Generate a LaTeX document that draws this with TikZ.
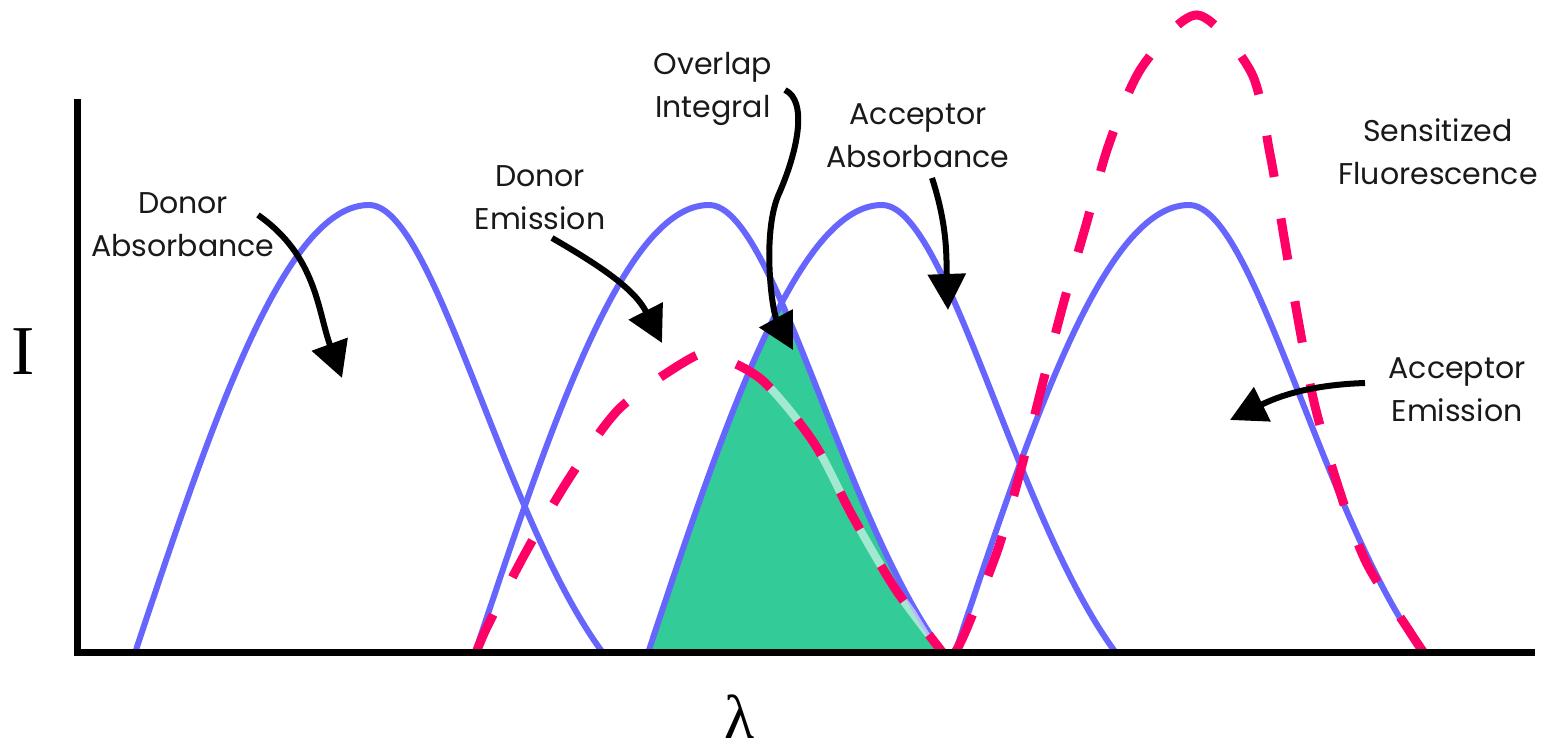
\documentclass[tikz,border=0pt]{standalone}
\usepackage{fontspec}
\newfontfamily\labelfont{Poppins}
\newfontfamily\axisfont{Liberation Serif}
\usetikzlibrary{arrows.meta}
\definecolor{cblue}{RGB}{102,102,255}
\definecolor{cred}{RGB}{255,0,102}
\definecolor{cgreen}{RGB}{51,204,153}
\newcommand\archplot{plot[domain=-234:0,samples=50,smooth] (\x,{448*cos(90*\x/234)}) -- plot[domain=0:234,samples=50,smooth] (\x,{448*cos(90*(\x/234+0.55*(\x/234)*(1-\x/234)))})}
\newcommand\redsmall{plot[smooth] coordinates {(476,98) (488,126) (527,201) (570,274) (619,342) (686,390) (712,396) (762,371) (814,308) (853,234) (896,161) (943,98)}}
\newcommand\redbig{plot[smooth] coordinates {(955,98) (967,123) (998,202) (1021,282) (1042,365) (1063,446) (1086,526) (1109,607) (1142,684) (1197,736) (1251,679) (1270,597) (1284,514) (1298,432) (1314,349) (1337,268) (1366,189) (1410,119) (1424,98)}}
\begin{document}
\begin{tikzpicture}[x=1pt,y=1pt,
  bluec/.style={draw=cblue, line width=6pt},
  redc/.style={draw=cred, line width=9pt, dash pattern=on 42pt off 42pt},
  arr/.style={draw=black, line width=6pt, -{Triangle[length=36pt,width=37pt]}},
  lab/.style={font=\labelfont\fontsize{30}{43}\selectfont, align=center, inner sep=0pt, text=black!90}]
\useasboundingbox (0,0) rectangle (1561,751);
% overlap integral
\begin{scope}
  \clip[shift={(709,98)}] \archplot -- cycle;
  \fill[cgreen, shift={(882,98)}] \archplot -- cycle;
\end{scope}
% blue spectra
\foreach \c in {369,709,882,1189} \draw[bluec, shift={(\c,98)}] \archplot;
% light gaps of the dashed line inside the overlap
\begin{scope}
  \clip[shift={(709,98)}] \archplot -- cycle;
  \clip[shift={(882,98)}] \archplot -- cycle;
  \draw[white, opacity=0.55, line width=8pt] \redsmall;
\end{scope}
% red dashed spectra
\draw[redc] \redsmall;
\draw[redc] \redbig;
% axes
\draw[line width=7pt] (77,652) -- (77,98) -- (1535,98);
% labels
\node[lab] (dabs) at (183,526) {Donor\\Absorbance};
\node[lab] (dem) at (540,553) {Donor\\Emission};
\node[lab] (ovl) at (713,662) {Overlap\\Integral};
\node[lab] (aabs) at (918,615) {Acceptor\\Absorbance};
\node[lab] (sens) at (1438,599) {Sensitized\\Fluorescence};
\node[lab] (aem) at (1457,361) {Acceptor\\Emission};
\node[font=\axisfont\fontsize{70}{70}\selectfont, inner sep=0pt, anchor=base] (ilab) at (23,376) {I};
\node[font=\axisfont\fontsize{62}{62}\selectfont, inner sep=0pt, anchor=south] (lam) at (740,12) {λ};
% arrows
\coordinate (a1s) at (258,536); \coordinate (a1t) at (342,373);
\coordinate (a2s) at (552,513); \coordinate (a2t) at (662,408);
\coordinate (a3s) at (785,661); \coordinate (a3t) at (793,401);
\coordinate (a4s) at (932,573); \coordinate (a4t) at (948,441);
\coordinate (a5s) at (1365,368); \coordinate (a5t) at (1230,331);
\draw[arr] (a1s) to[out=-35,in=110] (a1t);
\draw[arr] (a2s) to[out=-30,in=117] (a2t);
\draw[arr] (a3s) .. controls (808,650) and (798,600) .. (778,555) .. controls (762,515) and (772,440) .. (a3t);
\draw[arr] (a4s) to[out=-72,in=92] (a4t);
\draw[arr] (a5s) to[out=182,in=26] (a5t);
\end{tikzpicture}
\end{document}
